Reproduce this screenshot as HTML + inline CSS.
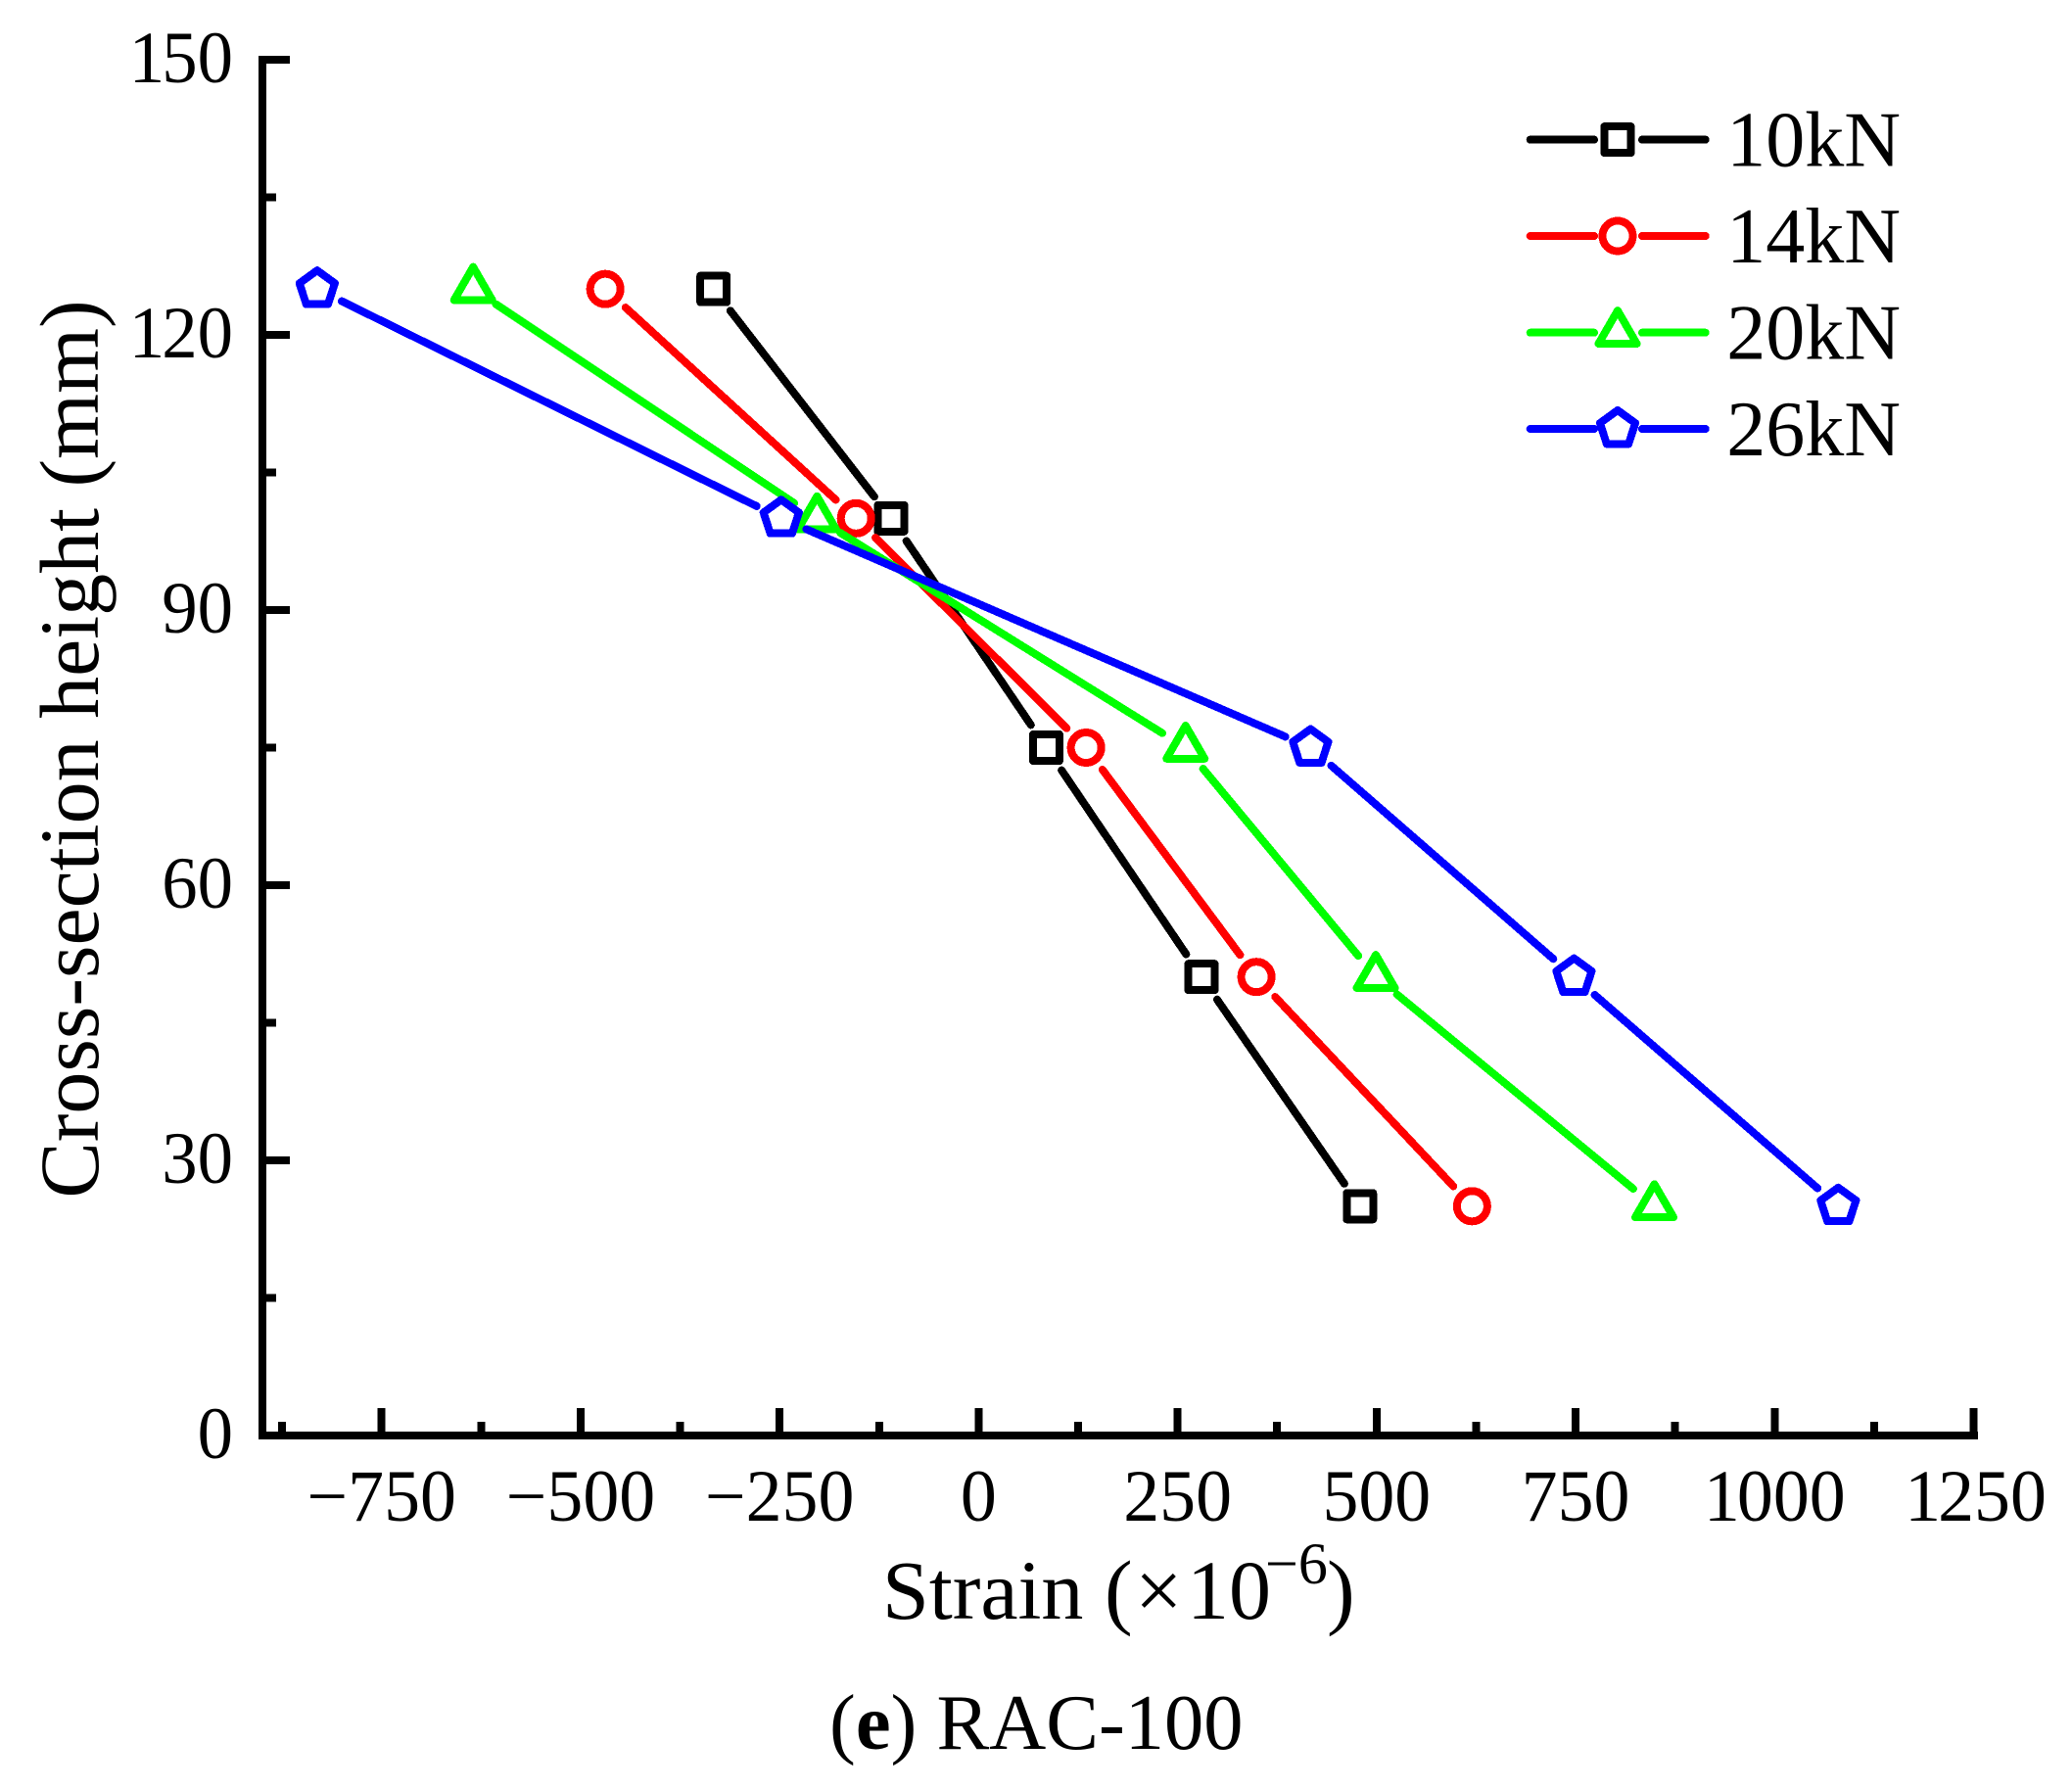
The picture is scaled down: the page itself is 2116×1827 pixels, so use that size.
<!DOCTYPE html>
<html lang="en">
<head>
<meta charset="utf-8">
<title>RAC-100 strain chart</title>
<style>
html,body{margin:0;padding:0;background:#fff;overflow:hidden}
svg{display:block}
text{font-family:"Liberation Serif","Times New Roman",serif;fill:#000}
line,rect,polygon,circle{shape-rendering:crispEdges}
</style>
</head>
<body>
<svg id="chart" xmlns="http://www.w3.org/2000/svg" width="2116" height="1827" viewBox="0 0 2116 1827">
<rect x="0" y="0" width="2116" height="1827" fill="#fff"/>
<text transform="translate(100,765) rotate(-90)" font-size="86" text-anchor="middle">Cross-section height (mm)</text>
<text y="1653" font-size="86"><tspan x="901">Strain</tspan><tspan x="1128">(</tspan><tspan x="1159">×</tspan><tspan x="1212">10</tspan></text>
<text y="1617" font-size="60"><tspan x="1292">−6</tspan></text>
<text x="1355" y="1653" font-size="86">)</text>
<text x="847" y="1786" font-size="80.5">(<tspan font-weight="bold">e</tspan>) RAC-100</text>
<g id="plot"></g>
<g id="axes"></g>
<g id="legend"></g>
</svg>
<script>
const heights = [125, 100, 75, 50, 25];
const strain10kN = [-333, -110, 85, 280, 479];
const strain14kN = [-469, -154, 135, 349, 620];
const strain20kN = [-635, -203, 260, 499, 849];
const strain26kN = [-831, -248, 417, 748, 1080];
const seriesNames = ['10kN', '14kN', '20kN', '26kN'];
const xMajorTicks = [-750, -500, -250, 0, 250, 500, 750, 1000, 1250];
const xMinorTicks = [-875, -625, -375, -125, 125, 375, 625, 875, 1125];
const yMajorTicks = [0, 30, 60, 90, 120, 150];
const yMinorTicks = [15, 45, 75, 105, 135];

const NS = 'http://www.w3.org/2000/svg';
const seriesValues = [strain10kN, strain14kN, strain20kN, strain26kN];
const seriesColors = ['#000000', '#ff0000', '#00ff00', '#0000ff'];
const seriesShapes = ['square', 'circle', 'triangle', 'pentagon'];
const legendRowY = [142.6, 241, 339.7, 438];

function xScale(v) { return 267.8 + (v + 900) * (2015.5 - 267.8) / 2150; }
function yScale(v) { return 1466 - v * (1466 - 61) / 150; }

function make(tag, parent) {
  const el = document.createElementNS(NS, tag);
  parent.appendChild(el);
  return el;
}
function setAll(el, attrs) {
  Object.keys(attrs).forEach(function (k) { el.setAttribute(k, attrs[k]); });
}
function markerPoints(shape, cx, cy) {
  if (shape === 'square') {
    return [[cx - 13.5, cy - 13.5], [cx + 13.5, cy - 13.5], [cx + 13.5, cy + 13.5], [cx - 13.5, cy + 13.5]];
  }
  if (shape === 'triangle') {
    return [[cx, cy - 22.5], [cx + 19.5, cy + 11.3], [cx - 19.5, cy + 11.3]];
  }
  const pts = [];
  for (let i = 0; i < 5; i++) {
    const a = -Math.PI / 2 + i * 2 * Math.PI / 5;
    pts.push([cx + 19 * Math.cos(a), cy + 19 * Math.sin(a)]);
  }
  return pts;
}
function drawMarker(parent, shape, cx, cy, color) {
  let el;
  if (shape === 'circle') {
    el = make('circle', parent);
    setAll(el, { cx: cx, cy: cy, r: 15.5 });
  } else {
    el = make('polygon', parent);
    el.setAttribute('points', markerPoints(shape, cx, cy).map(function (p) { return p[0].toFixed(2) + ',' + p[1].toFixed(2); }).join(' '));
  }
  setAll(el, { fill: 'none', stroke: color, 'stroke-width': 8, 'stroke-linejoin': 'round' });
  return el;
}
function drawSegment(parent, x1, y1, x2, y2, gap, color) {
  const d = Math.hypot(x2 - x1, y2 - y1);
  const ux = (x2 - x1) / d;
  const uy = (y2 - y1) / d;
  const seg = make('line', parent);
  setAll(seg, {
    x1: x1 + ux * gap, y1: y1 + uy * gap,
    x2: x2 - ux * gap, y2: y2 - uy * gap,
    stroke: color, 'stroke-width': 8, 'stroke-linecap': 'round'
  });
  return seg;
}
function drawBar(parent, x, y, w, h) {
  const r = make('rect', parent);
  setAll(r, { x: x, y: y, width: w, height: h, fill: '#000' });
  return r;
}
function drawLabel(parent, str, x, y, size, anchor, squeeze, tightenOne) {
  const t = make('text', parent);
  setAll(t, { x: 0, y: 0, 'font-size': size, 'text-anchor': anchor });
  t.setAttribute('transform', 'translate(' + x + ',' + y + ') scale(' + squeeze + ',1)');
  if (tightenOne && str.charAt(0) === '1') { t.setAttribute('dx', '0 -3'); }
  t.textContent = str;
  return t;
}

const plot = document.getElementById('plot');
seriesValues.forEach(function (vals, s) {
  const g = make('g', plot);
  
  
  vals.forEach(function (v, i) {
    if (i < vals.length - 1) {
      const seg = drawSegment(g, xScale(v), yScale(heights[i]), xScale(vals[i + 1]), yScale(heights[i + 1]), 28, seriesColors[s]);
      
      
    }
    const m = drawMarker(g, seriesShapes[s], xScale(v), yScale(heights[i]), seriesColors[s]);
    
    
  });
});

const axes = document.getElementById('axes');
const yAxisLine = drawBar(axes, 264, 57, 8, 1413);


const xAxisLine = drawBar(axes, 264, 1462, 1756, 8);



xMajorTicks.forEach(function (v) {
  const tick = drawBar(axes, xScale(v) - 4, 1438, 8, 28);
  
  
  const str = (v < 0 ? '\u2212' + Math.abs(v) : String(v));
  const label = drawLabel(axes, str, xScale(v) + (v === 1250 ? 2 : 0), 1553, 75, 'middle', 0.985, true);
  
  
});
xMinorTicks.forEach(function (v) {
  const tick = drawBar(axes, xScale(v) - 4, 1452, 8, 14);
  
  
});
yMajorTicks.forEach(function (v) {
  const tick = drawBar(axes, 268, yScale(v) - 4, 28, 8);
  
  
  const label = drawLabel(axes, String(v), 238, yScale(v) + 23, 75, 'end', 0.97, true);
  
  
});
yMinorTicks.forEach(function (v) {
  const tick = drawBar(axes, 268, yScale(v) - 4, 14, 8);
  
  
});

const legend = document.getElementById('legend');
seriesNames.forEach(function (name, s) {
  const ly = legendRowY[s];
  const g = make('g', legend);
  
  
  const left = make('line', g);
  setAll(left, { x1: 1562.7, y1: ly, x2: 1628, y2: ly, stroke: seriesColors[s], 'stroke-width': 8, 'stroke-linecap': 'round' });
  
  
  const right = make('line', g);
  setAll(right, { x1: 1677, y1: ly, x2: 1741.7, y2: ly, stroke: seriesColors[s], 'stroke-width': 8, 'stroke-linecap': 'round' });
  
  
  const m = drawMarker(g, seriesShapes[s], 1652, ly, seriesColors[s]);
  
  
  const label = drawLabel(g, name, 1941, ly + 27, 80, 'end', 1, false);
  
  
});
</script>
</body>
</html>
